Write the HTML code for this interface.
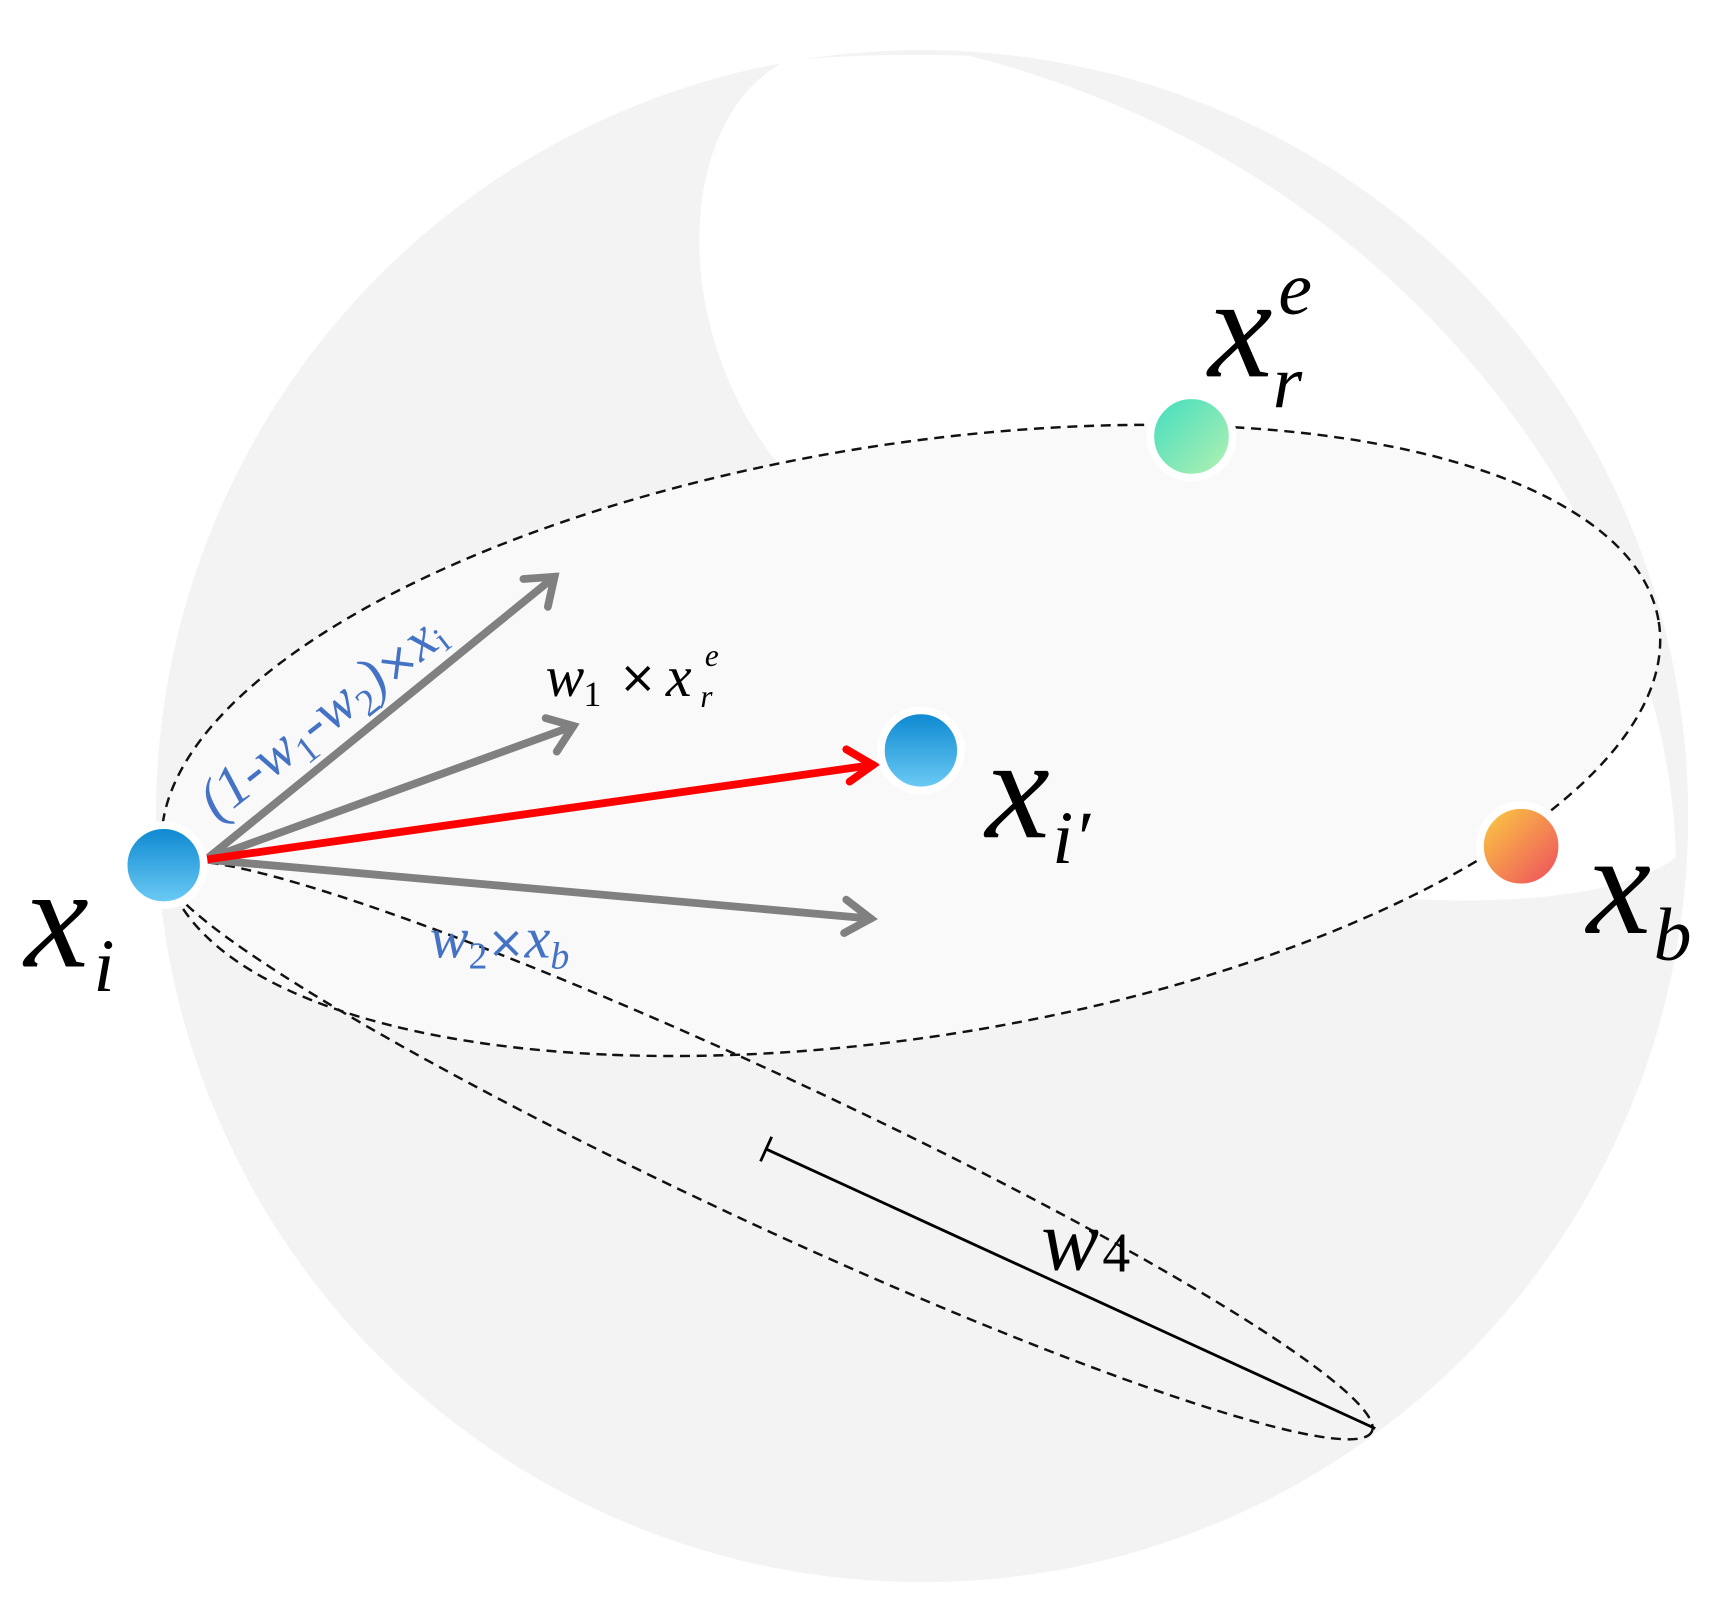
<!DOCTYPE html>
<html><head><meta charset="utf-8"><style>
html,body{margin:0;padding:0;background:#fff;}
svg{display:block;}
</style></head><body>
<svg width="1726" height="1600" viewBox="0 0 1550 1437" preserveAspectRatio="none" xmlns="http://www.w3.org/2000/svg" font-family="Liberation Serif, serif" font-style="italic">
<defs>
<linearGradient id="gb" x1="0" y1="0" x2="0" y2="1"><stop offset="0" stop-color="#0a86cf"/><stop offset="1" stop-color="#6fcdf6"/></linearGradient>
<linearGradient id="gg" x1="0" y1="0" x2="1" y2="1"><stop offset="0" stop-color="#3ddcc0"/><stop offset="1" stop-color="#b8f2b0"/></linearGradient>
<linearGradient id="go" x1="0" y1="0" x2="1" y2="1"><stop offset="0" stop-color="#fbd340"/><stop offset="1" stop-color="#ee4660"/></linearGradient>
</defs>
<circle cx="828" cy="733" r="688" fill="#f3f3f3"/>
<path d="M705,55 C600,110 600,320 720,440 L1230,805 C1350,815 1460,805 1505,770 C1500,520 1300,160 870,50 C810,48 750,50 705,55 Z" fill="#ffffff"/>
<g fill="none" stroke="#111" stroke-width="2.2" stroke-dasharray="9,6">
<ellipse cx="818" cy="665" rx="680" ry="266" transform="rotate(-9 818 665)" fill="#f9f9f9"/>
<ellipse cx="690" cy="1033" rx="598" ry="66" transform="rotate(25 690 1033)"/>
</g>
<g stroke="#000" stroke-width="2.5">
<line x1="688" y1="1032" x2="1235" y2="1283"/>
<line x1="683" y1="1043" x2="693" y2="1021"/>
</g>
<g stroke="#808080" stroke-width="7" fill="none" stroke-linecap="round">
<line x1="185" y1="772" x2="498" y2="518"/><polyline points="470,520 498,518 492,545"/>
<line x1="185" y1="772" x2="515" y2="652"/><polyline points="490,645 515,652 500,675"/>
<line x1="185" y1="772" x2="782" y2="825"/><polyline points="760,808 782,825 758,838"/>
</g>
<g stroke="#ff0000" stroke-width="7" fill="none" stroke-linecap="round">
<line x1="185" y1="772" x2="784" y2="687"/><polyline points="760,673 784,687 763,702"/>
</g>
<g stroke="#fff" stroke-width="7">
<circle cx="147" cy="777" r="36" fill="url(#gb)"/>
<circle cx="827" cy="674" r="36" fill="url(#gb)"/>
<circle cx="1070" cy="392" r="37" fill="url(#gg)"/>
<circle cx="1366" cy="760" r="37" fill="url(#go)"/>
</g>
<text x="22" y="868" font-size="130">x</text><text x="84" y="890" font-size="68">i</text>
<text x="885" y="752" font-size="130">x</text><text x="945" y="775" font-size="68">i′</text>
<text x="1085" y="338" font-size="130">x</text><text x="1143" y="366" font-size="68">r</text><text x="1148" y="282" font-size="68">e</text>
<text x="1425" y="838" font-size="130">x</text><text x="1485" y="862" font-size="68">b</text>
<text x="935" y="1140" font-size="78">w</text><text x="990" y="1142" font-size="50" font-style="normal">4</text>
<text x="490" y="625" font-size="52">w</text><text x="524" y="634" font-size="32" font-style="normal">1</text>
<text x="556" y="622" font-size="40" font-style="normal" font-family="DejaVu Sans, sans-serif">×</text>
<text x="598" y="625" font-size="52">x</text>
<text x="633" y="598" font-size="28">e</text><text x="629" y="635" font-size="28">r</text>
<text x="386" y="860" font-size="52" fill="#4472c4">w<tspan font-size="34" dy="10" font-style="normal">2</tspan><tspan font-style="normal" dy="-10" font-family="DejaVu Sans, sans-serif" font-size="40">×</tspan>x<tspan font-size="34" dy="10">b</tspan></text>
<text transform="translate(195,738) rotate(-38)" font-size="52" fill="#4472c4">(1-w<tspan font-size="34" dy="10" font-style="normal">1</tspan><tspan dy="-10">-w</tspan><tspan font-size="34" dy="10" font-style="normal">2</tspan><tspan dy="-10">)</tspan><tspan font-style="normal" font-family="DejaVu Sans, sans-serif" font-size="40">×</tspan>x<tspan font-size="32" dy="6" font-style="normal">i</tspan></text>
</svg>
</body></html>
